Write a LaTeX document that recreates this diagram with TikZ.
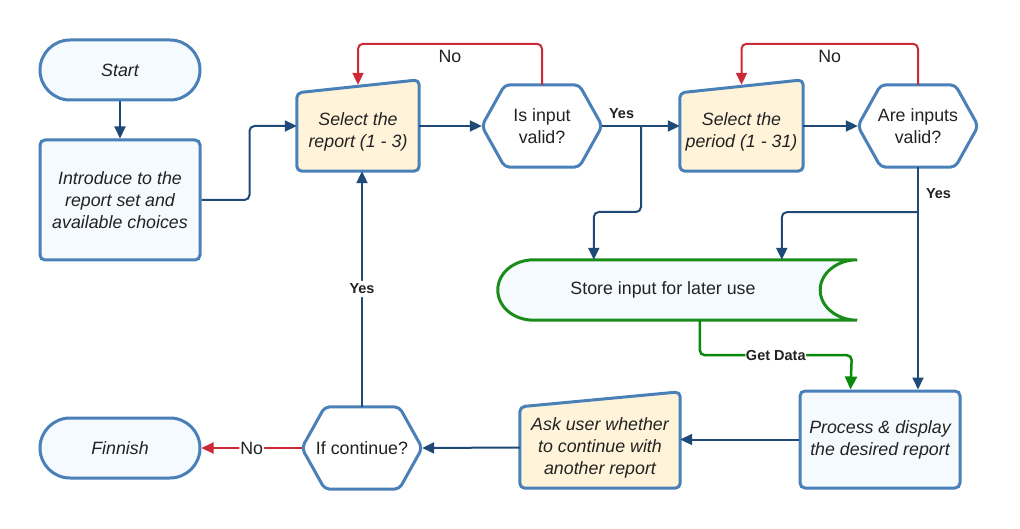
\documentclass[tikz,border=0pt]{standalone}
\usepackage{fontspec}
\setmainfont{Liberation Sans}
\usetikzlibrary{arrows.meta,calc,backgrounds}
\definecolor{shapeline}{HTML}{4A80B8}
\definecolor{bluefill}{HTML}{F5FAFF}
\definecolor{creamfill}{HTML}{FFF3DA}
\definecolor{conn}{HTML}{1F4A78}
\definecolor{redc}{HTML}{CC2A36}
\definecolor{greenc}{HTML}{0A8A0A}
\definecolor{storeline}{HTML}{1A8C1A}
\definecolor{txt}{HTML}{222222}
\begin{document}
\begin{tikzpicture}[x=1pt,y=-1pt,
  every node/.style={text=txt},
  base/.style={font=\fontsize{17.8}{22}\selectfont, align=center, inner sep=0pt},
  term/.style={base, font=\fontsize{17.8}{22}\selectfont\itshape, draw=shapeline, fill=bluefill, line width=3pt, rounded corners=30pt, minimum width=160pt, minimum height=60pt},
  procbox/.style={base, font=\fontsize{17.8}{22}\selectfont\itshape, draw=shapeline, fill=bluefill, line width=3pt, rounded corners=5pt},
  minbox/.style={base, font=\fontsize{17.8}{22}\selectfont\itshape},
  hexbox/.style={base, minimum width=120pt, minimum height=82pt},
  outline/.style={draw=shapeline, line width=3pt, rounded corners=5pt, line join=round},
  cn/.style={draw=conn, line width=2pt, rounded corners=5pt, -{Triangle[length=12pt,width=11pt]}},
  rcn/.style={draw=redc, line width=2pt, rounded corners=5pt, -{Triangle[length=12pt,width=11pt]}},
  gcn/.style={draw=greenc, line width=2.5pt, rounded corners=5pt, -{Triangle[length=13pt,width=12pt]}},
  lblb/.style={font=\fontsize{14.5}{16}\selectfont\bfseries, inner sep=1pt},
  lbln/.style={font=\fontsize{17.8}{20}\selectfont, inner sep=1pt}
]
\useasboundingbox (0,0) rectangle (1020,529);

% nodes
\node[term] (start) at (120,70) {Start};
\node[procbox, minimum width=160pt, minimum height=120pt] (intro) at (120,200) {Introduce to the\\report set and\\available choices};
\node[minbox, minimum width=122pt, minimum height=78pt] (sel) at (358,132) {Select the\\report (1 - 3)};
\node[hexbox] (valid1) at (542,126) {Is input\\valid?};
\node[minbox, minimum width=123pt, minimum height=78pt] (per) at (741.5,132) {Select the\\period (1 - 31)};
\node[hexbox] (valid2) at (918,126) {Are inputs\\valid?};
\node[base, minimum width=330pt, minimum height=60pt] (store) at (663,290) {Store input for later use};
\node[procbox, minimum width=160pt, minimum height=97pt] (proc) at (880,439.5) {Process \& display\\the desired report};
\node[minbox, minimum width=160pt, minimum height=81pt] (ask) at (600,447.5) {Ask user whether\\to continue with\\another report};
\node[hexbox] (ifc) at (362,448) {If continue?};
\node[term] (fin) at (120,448) {Finnish};

% custom outlines
\begin{scope}[on background layer]
  \fill[white] (0,0) rectangle (1020,529);
  \path[outline, fill=creamfill] (sel.south west) -- (sel.south east) -- ([yshift=13pt]sel.north east) -- (sel.north west) -- cycle;
  \path[outline, fill=creamfill] (per.south west) -- (per.south east) -- ([yshift=13pt]per.north east) -- (per.north west) -- cycle;
  \path[outline, fill=creamfill] (ask.south west) -- (ask.south east) -- ([yshift=15pt]ask.north east) -- (ask.north west) -- cycle;
  \foreach \h in {valid1,valid2,ifc}{
    \path[outline, fill=white] (\h.west) -- ([xshift=23pt]\h.north west) -- ([xshift=-23pt]\h.north east) -- (\h.east) -- ([xshift=-23pt]\h.south east) -- ([xshift=23pt]\h.south west) -- cycle;
  }
  \path[draw=storeline, fill=bluefill, line width=3pt]
    ($(store.north west)+(36,0)$) -- ($(store.north east)+(29,0)$)
    .. controls ($(store.north east)+(9,0)$) and ($(store.east)+(-8,-17)$) .. ($(store.east)+(-8,0)$)
    .. controls ($(store.east)+(-8,17)$) and ($(store.south east)+(9,0)$) .. ($(store.south east)+(29,0)$)
    -- ($(store.south west)+(36,0)$)
    .. controls ($(store.south west)+(16,0)$) and ($(store.west)+(0,17)$) .. (store.west)
    .. controls ($(store.west)+(0,-17)$) and ($(store.north west)+(16,0)$) .. ($(store.north west)+(36,0)$) -- cycle;
\end{scope}

% connectors
\draw[cn] (start.south) -- (intro.north);
\draw[cn] (intro.east) -- ++(48,0) |- ([yshift=6pt]sel.west);
\draw[cn] ([yshift=6pt]sel.east) -- (valid1.west);
\draw[rcn] (valid1.north) -- ++(0,-41) -| node[lbln, pos=0.25, below=4pt]{No} ([yshift=8pt]sel.north);
\draw[cn] (valid1.east) -- node[lblb, pos=0.25, above=5pt]{Yes} ([yshift=6pt]per.west);
\coordinate (j1) at ($(valid1.east)!0.5!([yshift=6pt]per.west)$);
\draw[cn] (j1) -- ++(0,86) -| ($(store.north west)+(96,0)$);
\draw[cn] ([yshift=6pt]per.east) -- (valid2.west);
\draw[rcn] (valid2.north) -- ++(0,-41) -| node[lbln, pos=0.25, below=4pt]{No} ([yshift=8pt]per.north);
\draw[cn] (valid2.south) -- node[lblb, pos=0.12, right=6pt]{Yes} (valid2.south |- proc.north);
\coordinate (j2) at ($(valid2.south)+(0,45)$);
\draw[cn] (j2) -| ($(store.north west)+(284,0)$);
\draw[gcn] ($(store.south west)+(202,0)$) -- ++(0,35) -- node[lblb, fill=white, inner sep=0.5pt]{Get Data} ++(152,0) -- ($(proc.north west)+(52,0)$);
\draw[cn] (proc.west) -- (proc.west -| ask.east);
\draw[cn] (ask.west) -- (ifc.east);
\draw[cn] (ifc.north) -- node[lblb, fill=white, inner sep=3pt, pos=0.5]{Yes} (ifc.north |- sel.south);
\draw[rcn] (ifc.west) -- node[lbln, fill=white, inner sep=1pt]{No} (fin.east);
\end{tikzpicture}
\end{document}
